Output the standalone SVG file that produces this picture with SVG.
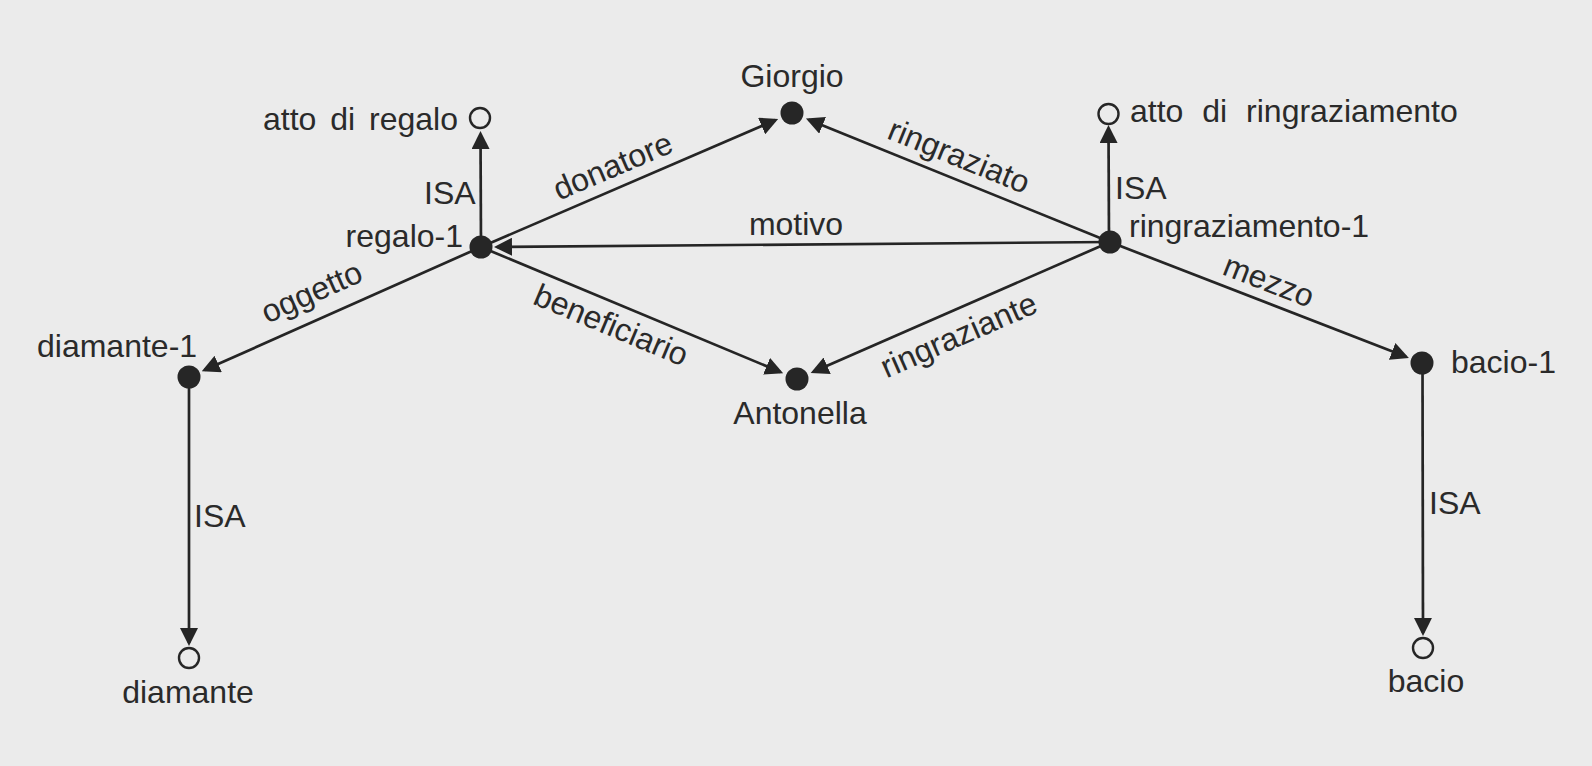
<svg xmlns="http://www.w3.org/2000/svg" width="1592" height="766" viewBox="0 0 1592 766">
  <defs>
    <marker id="arrow" viewBox="0 0 18 18" markerWidth="18" markerHeight="18" refX="15" refY="9" orient="auto" markerUnits="userSpaceOnUse">
      <path d="M0,0 L18,9 L0,18 z" fill="#252525"/>
    </marker>
    <style>
      text { font-family: "Liberation Sans", Arial, Helvetica, sans-serif; font-size: 32px; fill: #2a2a2a; }
      .edge { stroke: #252525; stroke-width: 2.7; fill: none; marker-end: url(#arrow); }
      .inst { fill: #262626; }
      .cls { fill: #ebebeb; stroke: #262626; stroke-width: 2.4; }
      .mid { text-anchor: middle; }
      .end { text-anchor: end; }
    </style>
  </defs>

  <rect x="0" y="0" width="1592" height="766" fill="#ebebeb"/>

  <!-- connectors and their relation labels -->
  <g id="connectors">
    <line class="edge" x1="481" y1="247" x2="480.5" y2="134"/>
    <text x="424" y="204">ISA</text>

    <line class="edge" x1="481" y1="247" x2="775.4" y2="120.1"/>
    <text class="mid" transform="translate(617,176) rotate(-23.15)">donatore</text>

    <line class="edge" x1="1110" y1="242" x2="808.7" y2="119.7"/>
    <text class="mid" transform="translate(955,166) rotate(22.08)">ringraziato</text>

    <line class="edge" x1="1110" y1="242" x2="497" y2="246.9"/>
    <text class="mid" x="796" y="235">motivo</text>

    <line class="edge" x1="481" y1="247" x2="780.4" y2="372"/>
    <text class="mid" transform="translate(607,335) rotate(22.67)">beneficiario</text>

    <line class="edge" x1="1110" y1="242" x2="813.4" y2="371.8"/>
    <text class="mid" transform="translate(963,345) rotate(-23.64)">ringraziante</text>

    <line class="edge" x1="481" y1="247" x2="204.5" y2="370.1"/>
    <text class="mid" transform="translate(316,302) rotate(-24)">oggetto</text>

    <line class="edge" x1="1109" y1="242" x2="1108.5" y2="128"/>
    <text x="1115" y="199">ISA</text>

    <line class="edge" x1="1110" y1="242" x2="1406.1" y2="356.8"/>
    <text class="mid" transform="translate(1265,291) rotate(21.2)">mezzo</text>

    <line class="edge" x1="189" y1="377" x2="189" y2="643"/>
    <text x="194" y="527">ISA</text>

    <line class="edge" x1="1422.5" y1="363" x2="1423" y2="633"/>
    <text x="1429" y="514">ISA</text>
  </g>

  <!-- instance nodes -->
  <g id="regalo-1">
    <circle class="inst" cx="481" cy="247" r="11.5"/>
    <text class="end" x="463" y="247">regalo-1</text>
  </g>
  <g id="giorgio">
    <circle class="inst" cx="792" cy="113" r="11.5"/>
    <text class="mid" x="792" y="87">Giorgio</text>
  </g>
  <g id="ringraziamento-1">
    <circle class="inst" cx="1110" cy="242" r="11.5"/>
    <text x="1129" y="237">ringraziamento-1</text>
  </g>
  <g id="antonella">
    <circle class="inst" cx="797" cy="379" r="11.5"/>
    <text class="mid" x="800" y="424">Antonella</text>
  </g>
  <g id="diamante-1">
    <circle class="inst" cx="189" cy="377" r="11.5"/>
    <text x="37" y="357">diamante-1</text>
  </g>
  <g id="bacio-1">
    <circle class="inst" cx="1422" cy="363" r="11.5"/>
    <text x="1451" y="373">bacio-1</text>
  </g>

  <!-- class nodes -->
  <g id="atto-di-regalo">
    <circle class="cls" cx="480" cy="118" r="10"/>
    <text class="end" x="458" y="130" word-spacing="5">atto di regalo</text>
  </g>
  <g id="atto-di-ringraziamento">
    <circle class="cls" cx="1108.5" cy="114" r="10"/>
    <text x="1130" y="122" word-spacing="10">atto di ringraziamento</text>
  </g>
  <g id="diamante">
    <circle class="cls" cx="189" cy="658" r="10"/>
    <text class="mid" x="188" y="703">diamante</text>
  </g>
  <g id="bacio">
    <circle class="cls" cx="1423" cy="648" r="10"/>
    <text class="mid" x="1426" y="692">bacio</text>
  </g>
</svg>
